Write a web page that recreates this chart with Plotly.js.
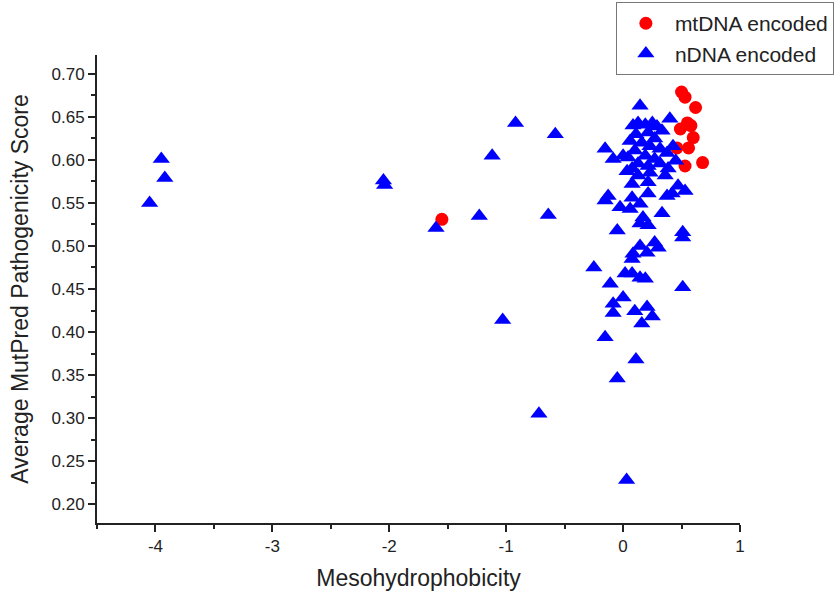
<!DOCTYPE html>
<html>
<head>
<meta charset="utf-8">
<script src="https://cdn.plot.ly/plotly-3.0.1.min.js"></script>
<style>html,body{margin:0;padding:0;background:#fff;}#chart{width:837px;height:601px;}</style>
</head>
<body>
<div id="chart"></div>
<script>
// mtDNA encoded (red circles)
const mtX = [-1.55, 0.50, 0.53, 0.62, 0.55, 0.49, 0.58, 0.60, 0.46, 0.56, 0.53, 0.68];
const mtY = [0.531, 0.679, 0.673, 0.661, 0.643, 0.636, 0.640, 0.626, 0.614, 0.614, 0.593, 0.597];

// nDNA encoded (blue triangles)
const nX = [
  -4.05, -3.95, -3.92, -2.05, -2.04, -1.60, -1.23, -1.12, -0.92, -1.03, -0.72, -0.64, -0.58, 0.03,
  0.145, 0.40, -0.154, -0.085, 0.0, 0.043, 0.085, 0.128, 0.19, 0.25, 0.29, 0.333, 0.11, 0.214, 0.27,
  0.06, 0.16, 0.23, 0.316, 0.376, 0.427, 0.10, 0.19, 0.27, 0.128, 0.214, 0.316, 0.385, 0.077, 0.45,
  0.034, 0.128, 0.23, 0.36, 0.077, 0.214, 0.47, 0.53, -0.128, -0.154, 0.077, 0.214, 0.376, 0.42,
  -0.026, 0.06, 0.145, 0.17, 0.333, 0.145, 0.214, -0.05, 0.51, 0.51,
  0.145, 0.27, 0.30, 0.085, 0.205, 0.077, 0.017, 0.077, 0.145, 0.19, -0.11, -0.25, 0.51,
  -0.085, -0.085, 0.0, 0.10, 0.205, 0.25, 0.16, -0.154, 0.11, -0.05
];
const nY = [
  0.550, 0.601, 0.579, 0.576, 0.571, 0.521, 0.535, 0.605, 0.643, 0.414, 0.305, 0.536, 0.630, 0.228,
  0.663, 0.648, 0.613, 0.601, 0.605, 0.603, 0.640, 0.643, 0.641, 0.643, 0.639, 0.634, 0.630, 0.632, 0.625,
  0.622, 0.620, 0.616, 0.613, 0.608, 0.616, 0.611, 0.605, 0.601, 0.596, 0.593, 0.596, 0.590, 0.590, 0.599,
  0.587, 0.582, 0.585, 0.582, 0.572, 0.574, 0.570, 0.564, 0.558, 0.553, 0.556, 0.561, 0.558, 0.561,
  0.545, 0.543, 0.549, 0.533, 0.538, 0.526, 0.524, 0.518, 0.516, 0.510,
  0.500, 0.504, 0.498, 0.491, 0.492, 0.485, 0.468, 0.468, 0.463, 0.462, 0.456, 0.475, 0.452,
  0.422, 0.433, 0.440, 0.424, 0.429, 0.418, 0.410, 0.394, 0.368, 0.346
];

const xTicks = [-4, -3, -2, -1, 0, 1];
const yTicks = [0.20, 0.25, 0.30, 0.35, 0.40, 0.45, 0.50, 0.55, 0.60, 0.65, 0.70];

const font = "Liberation Sans, Arial, sans-serif";

const traces = [
  {
    x: mtX, y: mtY, type: 'scatter', mode: 'markers', name: 'mtDNA encoded',
    marker: {symbol: 'circle', size: 13, color: '#ff0000', line: {width: 0}}
  },
  {
    x: nX, y: nY, type: 'scatter', mode: 'markers', name: 'nDNA encoded',
    marker: {symbol: 'triangle-up', size: 15, color: '#0000ff', line: {width: 0}}
  }
];

const layout = {
  width: 837, height: 601,
  margin: {l: 97, r: 97, t: 55, b: 78, pad: 0, autoexpand: false},
  paper_bgcolor: '#fff', plot_bgcolor: '#fff',
  font: {family: font, color: '#222'},
  showlegend: true,
  legend: {
    x: 1.146, y: 1.113, xanchor: 'right', yanchor: 'top',
    bordercolor: '#777', borderwidth: 1, bgcolor: '#fff',
    font: {family: font, size: 21, color: '#222'},
    tracegroupgap: 0, itemwidth: 48
  },
  xaxis: {
    range: [-4.5, 1], tickmode: 'array', tickvals: xTicks, ticktext: xTicks.map(String),
    showgrid: false, zeroline: false, showline: true, linecolor: '#222', linewidth: 2,
    ticks: 'outside', ticklen: 7, tickwidth: 2, tickcolor: '#222',
    tickfont: {family: font, size: 17, color: '#222'},
    minor: {dtick: 0.5, tick0: 0, ticks: 'outside', ticklen: 4, tickwidth: 2, tickcolor: '#222', showgrid: false},
    title: {text: 'Mesohydrophobicity', font: {family: font, size: 23, color: '#222'}, standoff: 14}
  },
  yaxis: {
    range: [0.178, 0.722], tickmode: 'array', tickvals: yTicks, ticktext: yTicks.map(v => v.toFixed(2)),
    showgrid: false, zeroline: false, showline: true, linecolor: '#222', linewidth: 2,
    ticks: 'outside', ticklen: 7, tickwidth: 2, tickcolor: '#222',
    tickfont: {family: font, size: 17, color: '#222'},
    minor: {dtick: 0.025, tick0: 0, ticks: 'outside', ticklen: 4, tickwidth: 2, tickcolor: '#222', showgrid: false},
    title: {text: 'Average MutPred Pathogenicity Score', font: {family: font, size: 23, color: '#222'}, standoff: 16}
  }
};

Plotly.newPlot('chart', traces, layout, {displayModeBar: false, staticPlot: true});
</script>
</body>
</html>
